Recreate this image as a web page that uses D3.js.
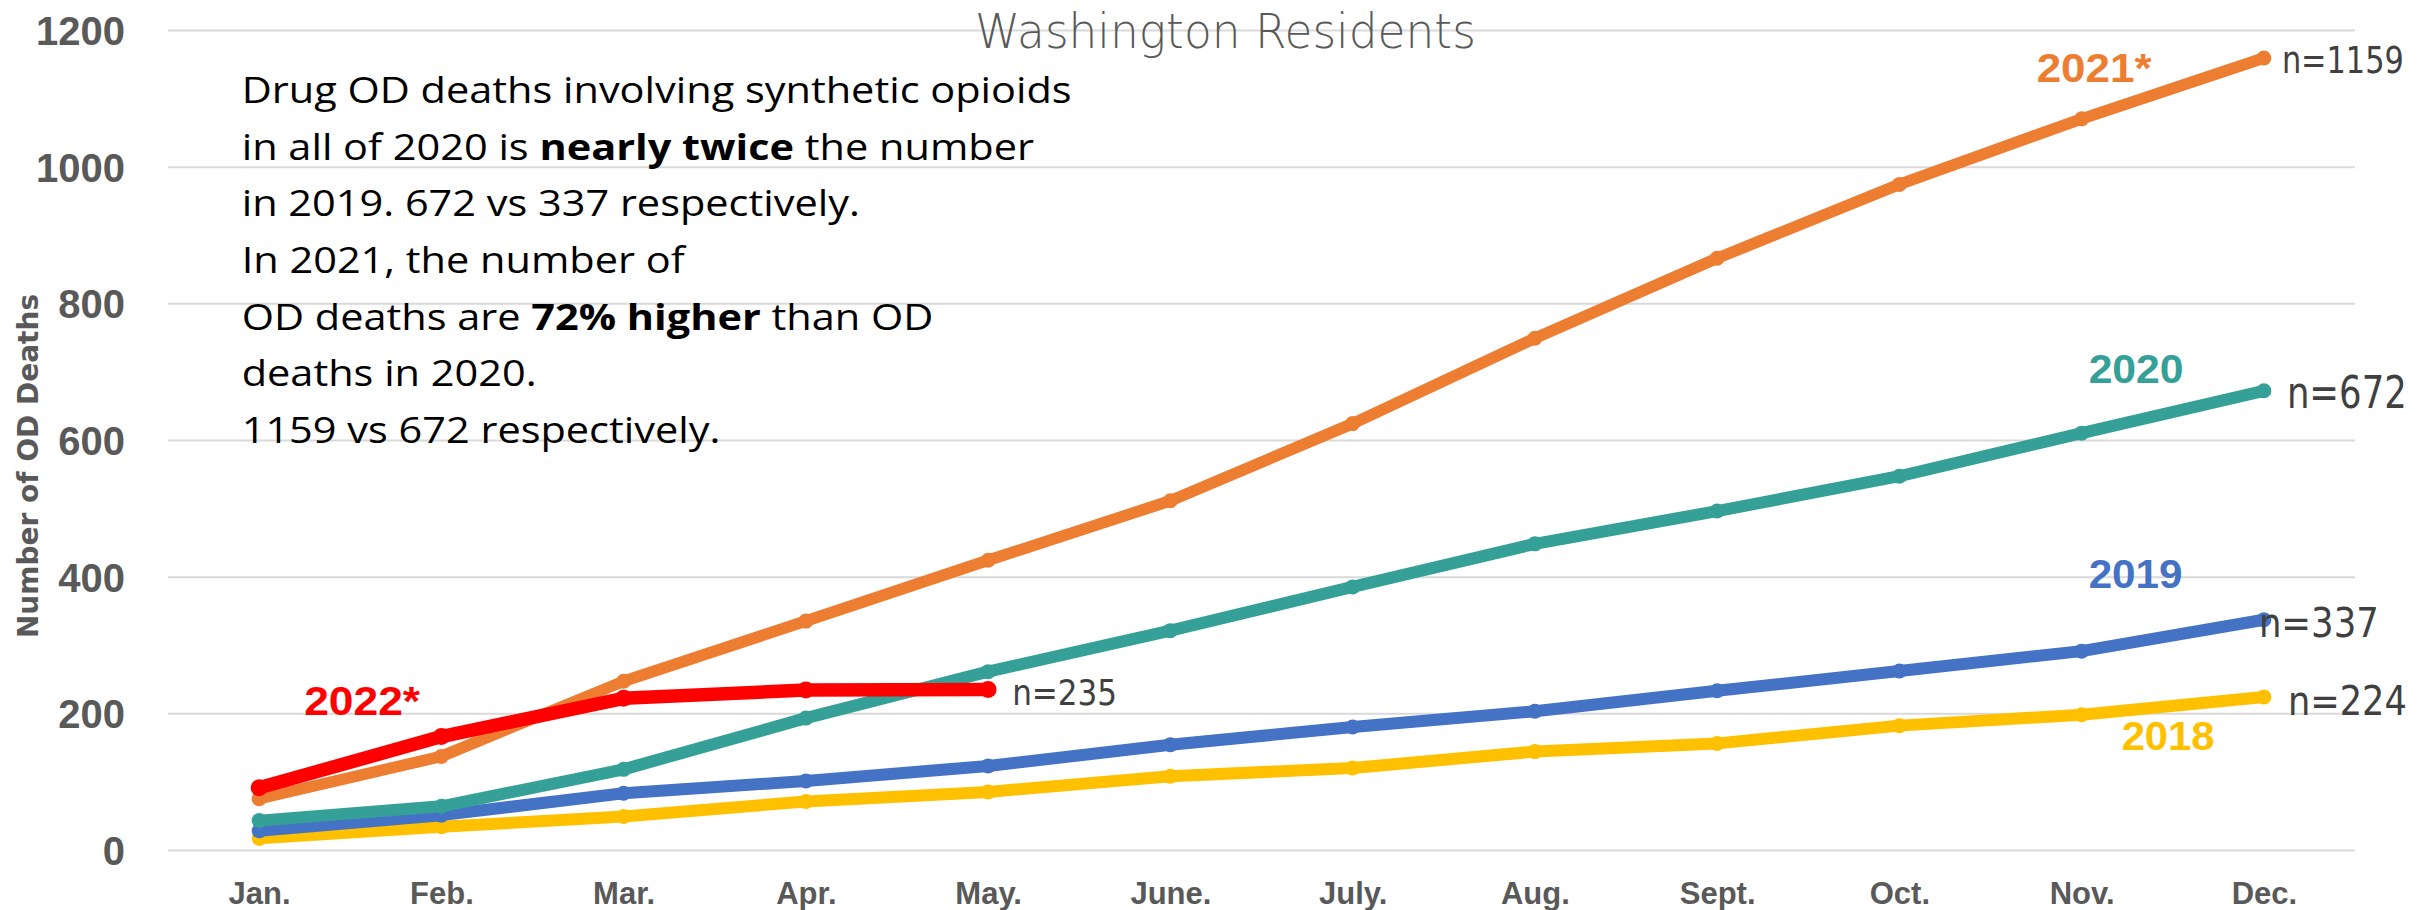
<!DOCTYPE html>
<html>
<head>
<meta charset="utf-8">
<script src="https://cdn.jsdelivr.net/npm/d3@7/dist/d3.min.js"></script>
<style>
  html, body { margin: 0; padding: 0; background: #ffffff; }
  svg { display: block; }
</style>
</head>
<body>
<svg id="chart" width="2433" height="910"></svg>
<script>
// Cumulative monthly counts of OD deaths involving synthetic opioids, Washington residents
const months = ["Jan.", "Feb.", "Mar.", "Apr.", "May.", "June.", "July.", "Aug.", "Sept.", "Oct.", "Nov.", "Dec."];
const deaths2018 = [17, 34, 49, 71, 85, 108, 120, 144, 156, 182, 198, 224];
const deaths2019 = [28, 51, 83, 101, 123, 154, 180, 203, 233, 262, 291, 337];
const deaths2020 = [43, 64, 118, 193, 261, 321, 385, 448, 496, 547, 610, 672];
const deaths2021 = [75, 137, 247, 335, 424, 511, 624, 749, 866, 974, 1070, 1159];
const deaths2022 = [91, 166, 222, 234, 235];
const yTickValues = [0, 200, 400, 600, 800, 1000, 1200];
const seriesNames = ["2018", "2019", "2020", "2021*", "2022*"];

const plot = { left: 168, right: 2355, top: 30, bottom: 850 };

const svg = d3.select("#chart");

const x = d3.scalePoint().domain(months).range([plot.left, plot.right]).padding(0.5);
const y = d3.scaleLinear().domain([0, 1200]).range([plot.bottom, plot.top]);

// Places a text at (px, py) and squeezes it horizontally to a given width.
function fitText(sel, px, py, width) {
  const w = sel.node().getComputedTextLength();
  sel.attr("x", 0).attr("y", 0)
     .attr("transform", `translate(${px},${py}) scale(${width / w},1)`);
  return sel;
}

// series definitions (drawing order: oldest first, 2022 on top)
const series = [
  { name: seriesNames[0], values: deaths2018, color: "#FFC000", width: 12, r: 7.5,
    label: { ref: 10, dx: 40, dy: 35, len: 93 }, n: { dx: 24, dy: 18, size: 41, len: 119 } },
  { name: seriesNames[1], values: deaths2019, color: "#4472C4", width: 12, r: 7.5,
    label: { ref: 10, dx: 7, dy: -63, len: 94 }, n: { dx: -5, dy: 17, size: 41, len: 120 } },
  { name: seriesNames[2], values: deaths2020, color: "#35A097", width: 12, r: 7.5,
    label: { ref: 10, dx: 7, dy: -50, len: 95 }, n: { dx: 23, dy: 17, size: 44, len: 120 } },
  { name: seriesNames[3], values: deaths2021, color: "#ED7D31", width: 11.5, r: 7.5,
    label: { ref: 10, dx: -45, dy: -37, len: 115 }, n: { dx: 18, dy: 15, size: 37, len: 122 } },
  { name: seriesNames[4], values: deaths2022, color: "#FF0000", width: 13.5, r: 8.5,
    label: { ref: 0, dx: 45, dy: -73, len: 116 }, n: { dx: 24, dy: 16, size: 35, len: 105 } }
];

// gridlines + y tick labels
const yAxis = d3.axisLeft(y)
  .tickValues(yTickValues)
  .tickSize(-(plot.right - plot.left))
  .tickPadding(43)
  .tickFormat(d3.format("d"));

const gy = svg.append("g")
  .attr("transform", `translate(${plot.left},0)`)
  .call(yAxis);
gy.select(".domain").remove();
gy.selectAll(".tick line").attr("stroke", "#D9D9D9").attr("stroke-width", 2);
gy.selectAll(".tick text")
  .attr("fill", "#595959")
  .attr("dy", "0.36em")
  .style("font-family", "'Liberation Sans', Arial, sans-serif")
  .style("font-weight", "bold")
  .style("font-size", "40px");

// x tick labels
const xAxis = d3.axisBottom(x).tickSize(0);
const gx = svg.append("g")
  .attr("transform", `translate(0,${plot.bottom})`)
  .call(xAxis);
gx.select(".domain").remove();
gx.selectAll(".tick text")
  .attr("y", 54)
  .attr("dy", 0)
  .attr("fill", "#595959")
  .style("font-family", "'Liberation Sans', Arial, sans-serif")
  .style("font-weight", "bold")
  .style("font-size", "31px");

// y axis title
svg.append("text")
  .attr("transform", `translate(37.5,466) rotate(-90)`)
  .attr("text-anchor", "middle")
  .attr("fill", "#595959")
  .style("font-family", "'DejaVu Sans', sans-serif")
  .style("font-weight", "bold")
  .style("font-size", "28px")
  .text("Number of OD Deaths");

// chart title
fitText(
  svg.append("text")
    .attr("fill", "#595959")
    .style("font-family", "'DejaVu Sans', sans-serif")
    .style("font-weight", 200)
    .style("font-size", "48px")
    .text("Washington Residents"),
  975, 48, 501);

// lines and markers
const line = d3.line()
  .x((d, i) => x(months[i]))
  .y(d => y(d));

series.forEach(s => {
  const g = svg.append("g").attr("class", "series");
  g.append("path")
    .datum(s.values)
    .attr("d", line)
    .attr("fill", "none")
    .attr("stroke", s.color)
    .attr("stroke-width", s.width)
    .attr("stroke-linejoin", "round")
    .attr("stroke-linecap", "round");
  g.selectAll("circle")
    .data(s.values)
    .join("circle")
    .attr("cx", (d, i) => x(months[i]))
    .attr("cy", d => y(d))
    .attr("r", s.r)
    .attr("fill", s.color);
});

// series name labels
series.forEach(s => {
  const ref = s.label.ref;
  fitText(
    svg.append("text")
      .attr("fill", s.color)
      .style("font-family", "'Liberation Sans', Arial, sans-serif")
      .style("font-weight", "bold")
      .style("font-size", "41px")
      .text(s.name),
    x(months[ref]) + s.label.dx, y(s.values[ref]) + s.label.dy, s.label.len);
});

// end-of-series totals
series.forEach(s => {
  const last = s.values.length - 1;
  fitText(
    svg.append("text")
      .attr("fill", "#404040")
      .style("font-family", "'DejaVu Sans', sans-serif")
      .style("font-size", s.n.size + "px")
      .text("n=" + s.values[last]),
    x(months[last]) + s.n.dx, y(s.values[last]) + s.n.dy, s.n.len);
});

// annotation block
const total2019 = deaths2019[deaths2019.length - 1];
const total2020 = deaths2020[deaths2020.length - 1];
const total2021 = deaths2021[deaths2021.length - 1];
const pctHigher = Math.floor((total2021 / total2020 - 1) * 100);

const noteLines = [
  [{ t: "Drug OD deaths involving synthetic opioids" }],
  [{ t: "in all of 2020 is " }, { t: "nearly twice", b: true }, { t: " the number" }],
  [{ t: `in 2019. ${total2020} vs ${total2019} respectively.` }],
  [{ t: "In 2021, the number of" }],
  [{ t: "OD deaths are " }, { t: `${pctHigher}% higher`, b: true }, { t: " than OD" }],
  [{ t: "deaths in 2020." }],
  [{ t: `${total2021} vs ${total2020} respectively.` }]
];

const note = svg.append("g").attr("transform", "translate(241.7,0)");
noteLines.forEach((runs, i) => {
  const t = note.append("text")
    .attr("x", 0)
    .attr("y", 103.3 + i * 56.6)
    .attr("fill", "#000000")
    .style("font-family", "'Open Sans', 'Noto Sans', sans-serif")
    .style("font-size", "36px");
  runs.forEach(r => {
    t.append("tspan")
      .style("font-weight", r.b ? "bold" : "normal")
      .text(r.t);
  });
});
// fit the block to its column width
const firstWidth = note.select("text").node().getComputedTextLength();
note.attr("transform", `translate(241.7,0) scale(${830 / firstWidth},1)`);
</script>
</body>
</html>
